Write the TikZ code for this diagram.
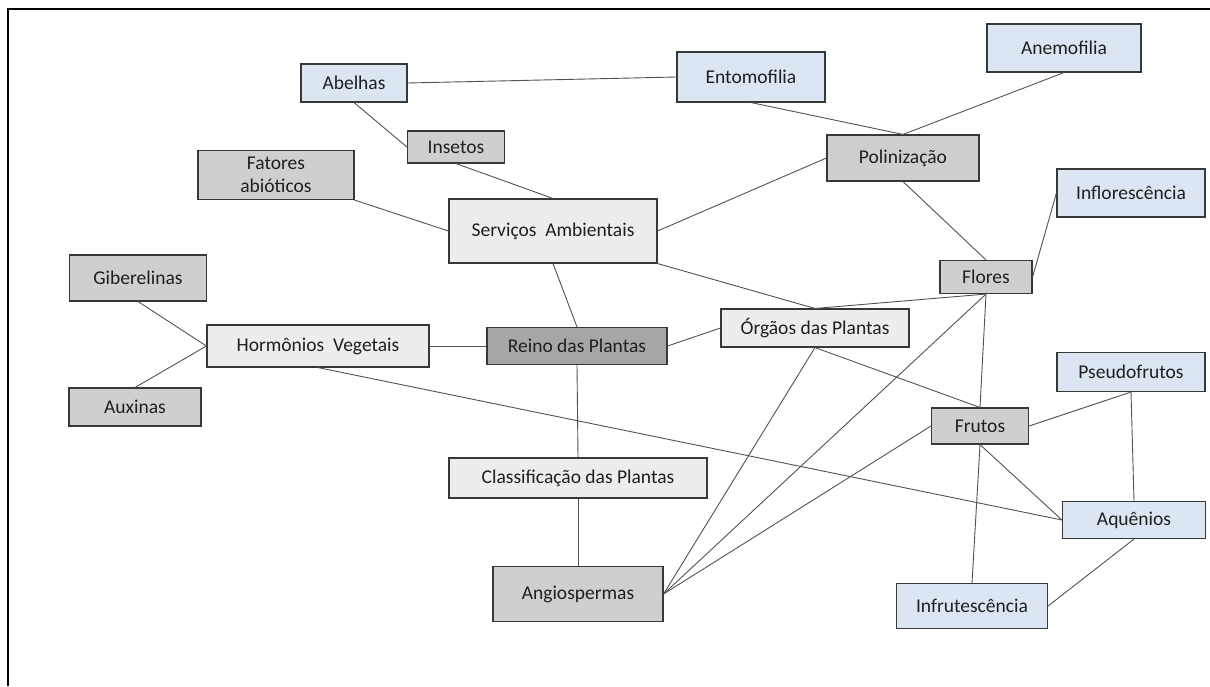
\documentclass[tikz,border=0pt]{standalone}
\usepackage{fontspec}
\setmainfont{Carlito}
\begin{document}
\begin{tikzpicture}[x=1pt,y=-1pt,
  every node/.style={font=\fontsize{19.5}{23.5}\selectfont, text=black!88},
  box/.style={draw=black!78, line width=1.1pt, rectangle, inner sep=0pt, align=center},
  bluebox/.style={box, fill=bluefill},
  graybox/.style={box, fill=grayfill},
  lightbox/.style={box, fill=lightfill},
  darkbox/.style={box, fill=darkfill},
  link/.style={draw=black!68, line width=0.9pt},
  frame/.style={draw=black, line width=2pt}]
\definecolor{bluefill}{HTML}{DCE6F2}
\definecolor{grayfill}{HTML}{D0CECE}
\definecolor{lightfill}{HTML}{EDEDED}
\definecolor{darkfill}{HTML}{A6A6A6}
\useasboundingbox (0,0) rectangle (1210,686);
\coordinate (fbl) at (8,686);
\coordinate (ftl) at (8,9);
\coordinate (ftr) at (1210,9);
\draw[frame] (fbl) -- (ftl) -- (ftr);

\node[bluebox, minimum width=106pt, minimum height=38pt] (abelhas) at (354,83) {Abelhas};
\node[bluebox, minimum width=148pt, minimum height=50pt] (entomo) at (751,77) {Entomofilia};
\node[bluebox, minimum width=154pt, minimum height=48pt] (anemo) at (1064,48) {Anemofilia};
\node[graybox, minimum width=97pt, minimum height=32pt] (insetos) at (456,147) {Insetos};
\node[graybox, minimum width=156pt, minimum height=49pt] (fatores) at (276,175) {Fatores\\abióticos};
\node[graybox, minimum width=152pt, minimum height=46pt] (polin) at (903,158) {Polinização};
\node[lightbox, minimum width=208pt, minimum height=64pt] (servicos) at (553,231) {Serviços \ Ambientais};
\node[bluebox, minimum width=148pt, minimum height=48pt] (infloresc) at (1131,193) {Inflorescência};
\node[graybox, minimum width=137pt, minimum height=46pt] (giber) at (138,278) {Giberelinas};
\node[graybox, minimum width=132pt, minimum height=38pt] (auxinas) at (135,407) {Auxinas};
\node[lightbox, minimum width=222pt, minimum height=42pt] (hormonios) at (318,346) {Hormônios \ Vegetais};
\node[darkbox, minimum width=180pt, minimum height=37pt] (reino) at (577,346) {Reino das Plantas};
\node[lightbox, minimum width=188pt, minimum height=38pt] (orgaos) at (815,328) {Órgãos das Plantas};
\node[graybox, minimum width=92pt, minimum height=33pt] (flores) at (986,277) {Flores};
\node[bluebox, minimum width=148pt, minimum height=39pt] (pseudo) at (1131,372) {Pseudofrutos};
\node[graybox, minimum width=97pt, minimum height=36pt] (frutos) at (980,426) {Frutos};
\node[lightbox, minimum width=258pt, minimum height=40pt] (classif) at (578,478) {Classificação das Plantas};
\node[graybox, minimum width=170pt, minimum height=55pt] (angio) at (578,594) {Angiospermas};
\node[bluebox, minimum width=143pt, minimum height=37pt] (aquenios) at (1134,520) {Aquênios};
\node[bluebox, minimum width=151pt, minimum height=45pt] (infrut) at (972,606) {Infrutescência};

\draw[link] (abelhas.east) -- (entomo.west);
\draw[link] (abelhas.south) -- (insetos.west);
\draw[link] (insetos.south) -- (servicos.north);
\draw[link] (fatores.south east) -- (servicos.west);
\draw[link] (servicos.east) -- (polin.west);
\draw[link] (entomo.south) -- (polin.north);
\draw[link] (anemo.south) -- (polin.north);
\draw[link] (polin.south) -- (flores.north);
\draw[link] (infloresc.west) -- (flores.east);
\draw[link] (servicos.south east) -- (orgaos.north);
\draw[link] (flores.south) -- (orgaos.north);
\draw[link] (servicos.south) -- (reino.north);
\draw[link] (hormonios.east) -- (reino.west);
\draw[link] (reino.east) -- (orgaos.west);
\draw[link] (giber.south) -- (hormonios.west);
\draw[link] (auxinas.north) -- (hormonios.west);
\draw[link] (reino.south) -- (classif.north);
\draw[link] (classif.south) -- (angio.north);
\draw[link] (hormonios.south) -- (aquenios.west);
\draw[link] (orgaos.south) -- (angio.east);
\draw[link] (flores.south) -- (angio.east);
\draw[link] (frutos.west) -- (angio.east);
\draw[link] (orgaos.south) -- (frutos.north);
\draw[link] (flores.south) -- (frutos.north);
\draw[link] (frutos.east) -- (pseudo.south);
\draw[link] (pseudo.south) -- (aquenios.north);
\draw[link] (frutos.south) -- (aquenios.west);
\draw[link] (frutos.south) -- (infrut.north);
\draw[link] (aquenios.south) -- (infrut.east);
\end{tikzpicture}
\end{document}
